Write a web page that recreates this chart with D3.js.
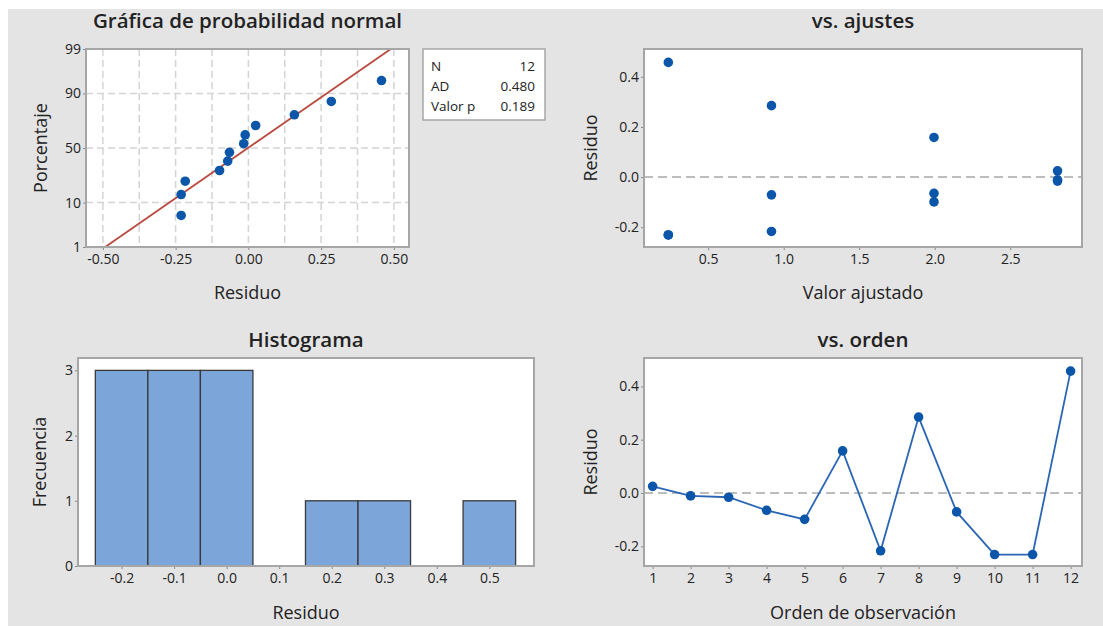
<!DOCTYPE html>
<html>
<head>
<meta charset="utf-8">
<script src="https://cdn.jsdelivr.net/npm/d3@7"></script>
<style>
  body { margin: 0; background: #fff; }
  text { font-family: "Open Sans", "Noto Sans", sans-serif; fill: #222; }
</style>
</head>
<body>
<svg id="chart" width="1103" height="626"></svg>
<script>
// residuos por orden de observación
const order = [1, 2, 3, 4, 5, 6, 7, 8, 9, 10, 11, 12];
const residuals = [0.025, -0.011, -0.016, -0.065, -0.099, 0.158, -0.217, 0.285, -0.071, -0.231, -0.231, 0.4575];
const fitted = [2.813, 2.813, 2.813, 1.995, 1.995, 1.995, 0.919, 0.919, 0.919, 0.236, 0.236, 0.236];

// histograma
const binMids = [-0.2, -0.1, 0.0, 0.1, 0.2, 0.3, 0.4, 0.5];
const binCounts = [3, 3, 3, 0, 1, 1, 0, 1];

// estadísticas de la leyenda
const statLabels = ["N", "AD", "Valor p"];
const statValues = ["12", "0.480", "0.189"];

const probTicks = [1, 10, 50, 90, 99];
const probGridX = [-0.5, -0.375, -0.25, -0.125, 0, 0.125, 0.25, 0.375, 0.5];

const BLUE = "#0b56a8";
const BORDER = "#a6a6a6";

const svg = d3.select("#chart");

// fondo gris
svg.append("rect")
    .attr("x", 8).attr("y", 9)
    .attr("width", 1103 - 8).attr("height", 626 - 9)
    .attr("fill", "#e4e4e4");

// guion normal en vez del signo menos
const fmt = f => d => d3.format(f)(d).replace("\u2212", "-");

// marco de panel con título y etiquetas
function panel({ x0, x1, y0, y1, title, xLabel, yLabel, yLabelX, titleY, xLabelY }) {
    const g = svg.append("g");
    g.append("rect")
        .attr("x", x0).attr("y", y0)
        .attr("width", x1 - x0).attr("height", y1 - y0)
        .attr("fill", "#fff");
    g.append("text")
        .attr("x", (x0 + x1) / 2).attr("y", titleY)
        .attr("text-anchor", "middle")
        .attr("font-size", "20.5px")
        .attr("font-weight", 600)
        .text(title);
    g.append("text")
        .attr("x", (x0 + x1) / 2).attr("y", xLabelY)
        .attr("text-anchor", "middle")
        .attr("font-size", "18px")
        .text(xLabel);
    g.append("text")
        .attr("transform", `translate(${yLabelX},${(y0 + y1) / 2}) rotate(-90)`)
        .attr("text-anchor", "middle")
        .attr("font-size", "18px")
        .text(yLabel);
    return g;
}

function frame(g, { x0, x1, y0, y1 }) {
    g.append("rect")
        .attr("x", x0).attr("y", y0)
        .attr("width", x1 - x0).attr("height", y1 - y0)
        .attr("fill", "none")
        .attr("stroke", BORDER)
        .attr("stroke-width", 2);
}

function styleAxis(sel) {
    sel.select(".domain").remove();
    sel.selectAll(".tick line").attr("stroke", "#888");
    sel.selectAll(".tick text")
        .attr("font-family", '"Open Sans", "Noto Sans", sans-serif')
        .attr("font-size", "14px")
        .attr("fill", "#333");
}

// ---------- Gráfica de probabilidad normal ----------
{
    const b = { x0: 86, x1: 409, y0: 49, y1: 247 };
    const g = panel({ ...b, title: "Gráfica de probabilidad normal", xLabel: "Residuo", yLabel: "Porcentaje",
        yLabelX: 47, titleY: 28, xLabelY: 299 });

    const x = d3.scaleLinear().domain([-0.558, 0.552]).range([b.x0, b.x1]);
    const y = d3.scaleLinear().domain([-2.3263, 2.3263]).range([b.y1, b.y0]);
    const probit = p => {
        // inversa de la normal (aprox. Acklam)
        const a = [-39.6968302866538, 220.946098424521, -275.928510446969, 138.357751867269, -30.6647980661472, 2.50662827745924];
        const bb = [-54.4760987982241, 161.585836858041, -155.698979859887, 66.8013118877197, -13.2806815528857];
        const c = [-0.00778489400243029, -0.322396458041136, -2.40075827716184, -2.54973253934373, 4.37466414146497, 2.93816398269878];
        const d = [0.00778469570904146, 0.32246712907004, 2.445134137143, 3.75440866190742];
        const pl = 0.02425;
        if (p < pl) {
            const q = Math.sqrt(-2 * Math.log(p));
            return (((((c[0] * q + c[1]) * q + c[2]) * q + c[3]) * q + c[4]) * q + c[5]) / ((((d[0] * q + d[1]) * q + d[2]) * q + d[3]) * q + 1);
        }
        if (p > 1 - pl) return -probit(1 - p);
        const q = p - 0.5, r = q * q;
        return (((((a[0] * r + a[1]) * r + a[2]) * r + a[3]) * r + a[4]) * r + a[5]) * q / (((((bb[0] * r + bb[1]) * r + bb[2]) * r + bb[3]) * r + bb[4]) * r + 1);
    };

    // rejilla
    g.append("g").selectAll("line").data(probGridX).join("line")
        .attr("x1", d => x(d)).attr("x2", d => x(d))
        .attr("y1", b.y0).attr("y2", b.y1)
        .attr("stroke", "#d4d4d4").attr("stroke-width", 1.5).attr("stroke-dasharray", "7,4");
    g.append("g").selectAll("line").data([10, 50, 90]).join("line")
        .attr("x1", b.x0).attr("x2", b.x1)
        .attr("y1", d => y(probit(d / 100))).attr("y2", d => y(probit(d / 100)))
        .attr("stroke", "#d4d4d4").attr("stroke-width", 1.5).attr("stroke-dasharray", "7,4");

    g.append("g").attr("transform", `translate(0,${b.y1})`)
        .call(d3.axisBottom(x).tickValues([-0.5, -0.25, 0, 0.25, 0.5]).tickFormat(fmt(".2f")).tickSize(3).tickPadding(4))
        .call(styleAxis);
    g.append("g").attr("transform", `translate(${b.x0},0)`)
        .call(d3.axisLeft(y).tickValues(probTicks.map(p => probit(p / 100))).tickFormat((d, i) => probTicks[i]).tickSize(3).tickPadding(2))
        .call(styleAxis);

    // línea ajustada (media y desviación estándar)
    const mu = d3.mean(residuals), sd = d3.deviation(residuals);
    const zs = [-2.3263, 2.3263];
    g.append("line")
        .attr("x1", x(mu + zs[0] * sd)).attr("y1", y(zs[0]))
        .attr("x2", x(mu + zs[1] * sd)).attr("y2", y(zs[1]))
        .attr("stroke", "#b94a40").attr("stroke-width", 1.8);

    const sorted = residuals.slice().sort(d3.ascending);
    const n = sorted.length;
    g.append("g").selectAll("circle").data(sorted).join("circle")
        .attr("cx", d => x(d))
        .attr("cy", (d, i) => y(probit((i + 1 - 0.3) / (n + 0.4))))
        .attr("r", 4.8)
        .attr("fill", BLUE);

    frame(g, b);

    // cuadro de estadísticas
    const lb = { x: 423, y: 49, w: 122, h: 71 };
    g.append("rect").attr("x", lb.x).attr("y", lb.y).attr("width", lb.w).attr("height", lb.h)
        .attr("fill", "#fff").attr("stroke", BORDER).attr("stroke-width", 1.5);
    const rows = g.append("g").selectAll("g").data(statLabels).join("g")
        .attr("transform", (d, i) => `translate(0,${lb.y + 22 + i * 20})`);
    rows.append("text").attr("x", lb.x + 8).attr("font-size", "13.5px").text(d => d);
    rows.append("text").attr("x", lb.x + lb.w - 10).attr("text-anchor", "end").attr("font-size", "13.5px")
        .text((d, i) => statValues[i]);
}

// ---------- vs. ajustes ----------
{
    const b = { x0: 644, x1: 1082, y0: 49, y1: 247 };
    const g = panel({ ...b, title: "vs. ajustes", xLabel: "Valor ajustado", yLabel: "Residuo",
        yLabelX: 597, titleY: 28, xLabelY: 299 });
    const x = d3.scaleLinear().domain([0.075, 2.975]).range([b.x0, b.x1]);
    const y = d3.scaleLinear().domain([-0.279, 0.511]).range([b.y1, b.y0]);

    g.append("line").attr("x1", b.x0).attr("x2", b.x1).attr("y1", y(0)).attr("y2", y(0))
        .attr("stroke", "#bdbdbd").attr("stroke-width", 2).attr("stroke-dasharray", "9,5");

    g.append("g").attr("transform", `translate(0,${b.y1})`)
        .call(d3.axisBottom(x).tickValues([0.5, 1.0, 1.5, 2.0, 2.5]).tickFormat(fmt(".1f")).tickSize(3).tickPadding(4))
        .call(styleAxis);
    g.append("g").attr("transform", `translate(${b.x0},0)`)
        .call(d3.axisLeft(y).tickValues([-0.2, 0, 0.2, 0.4]).tickFormat(fmt(".1f")).tickSize(3).tickPadding(2))
        .call(styleAxis);

    g.append("g").selectAll("circle").data(residuals).join("circle")
        .attr("cx", (d, i) => x(fitted[i]))
        .attr("cy", d => y(d))
        .attr("r", 4.8)
        .attr("fill", BLUE);
    frame(g, b);
}

// ---------- Histograma ----------
{
    const b = { x0: 78, x1: 534, y0: 358, y1: 566 };
    const g = panel({ ...b, title: "Histograma", xLabel: "Residuo", yLabel: "Frecuencia",
        yLabelX: 46, titleY: 347, xLabelY: 619 });
    const x = d3.scaleLinear().domain([-0.283, 0.585]).range([b.x0, b.x1]);
    const y = d3.scaleLinear().domain([0, 3.19]).range([b.y1, b.y0]);

    g.append("g").attr("transform", `translate(0,${b.y1})`)
        .call(d3.axisBottom(x).tickValues(binMids).tickFormat(fmt(".1f")).tickSize(3).tickPadding(4))
        .call(styleAxis);
    g.append("g").attr("transform", `translate(${b.x0},0)`)
        .call(d3.axisLeft(y).tickValues([0, 1, 2, 3]).tickFormat(d3.format("d")).tickSize(3).tickPadding(2))
        .call(styleAxis);

    const bins = binMids.map((m, i) => ({ x0: m - 0.05, x1: m + 0.05, n: binCounts[i] })).filter(d => d.n > 0);
    g.append("g").selectAll("rect").data(bins).join("rect")
        .attr("x", d => x(d.x0))
        .attr("y", d => y(d.n))
        .attr("width", d => x(d.x1) - x(d.x0))
        .attr("height", d => y(0) - y(d.n))
        .attr("fill", "#7ca6d9")
        .attr("stroke", "#3a3a3a")
        .attr("stroke-width", 1.3);
    frame(g, b);
}

// ---------- vs. orden ----------
{
    const b = { x0: 644, x1: 1082, y0: 358, y1: 566 };
    const g = panel({ ...b, title: "vs. orden", xLabel: "Orden de observación", yLabel: "Residuo",
        yLabelX: 597, titleY: 347, xLabelY: 619 });
    const x = d3.scaleLinear().domain([0.773, 12.30]).range([b.x0, b.x1]);
    const y = d3.scaleLinear().domain([-0.274, 0.5066]).range([b.y1, b.y0]);

    g.append("line").attr("x1", b.x0).attr("x2", b.x1).attr("y1", y(0)).attr("y2", y(0))
        .attr("stroke", "#bdbdbd").attr("stroke-width", 2).attr("stroke-dasharray", "9,5");

    g.append("g").attr("transform", `translate(0,${b.y1})`)
        .call(d3.axisBottom(x).tickValues(order).tickFormat(d3.format("d")).tickSize(3).tickPadding(4))
        .call(styleAxis);
    g.append("g").attr("transform", `translate(${b.x0},0)`)
        .call(d3.axisLeft(y).tickValues([-0.2, 0, 0.2, 0.4]).tickFormat(fmt(".1f")).tickSize(3).tickPadding(2))
        .call(styleAxis);

    const line = d3.line().x((d, i) => x(order[i])).y(d => y(d));
    g.append("path").datum(residuals)
        .attr("d", line)
        .attr("fill", "none")
        .attr("stroke", "#2a66b4")
        .attr("stroke-width", 1.8);
    g.append("g").selectAll("circle").data(residuals).join("circle")
        .attr("cx", (d, i) => x(order[i]))
        .attr("cy", d => y(d))
        .attr("r", 4.8)
        .attr("fill", BLUE);
    frame(g, b);
}
</script>
</body>
</html>
